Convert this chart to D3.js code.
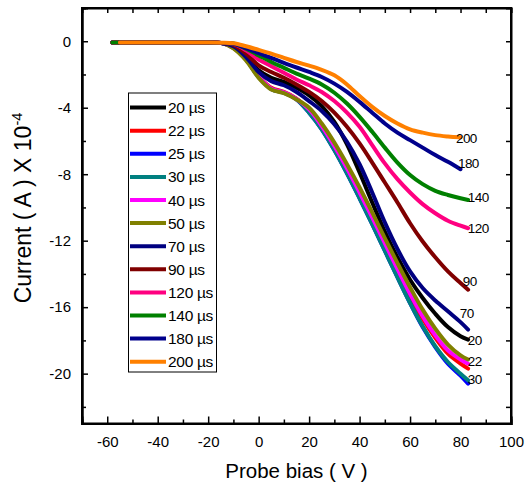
<!DOCTYPE html>
<html>
<head>
<meta charset="utf-8">
<script src="https://cdn.jsdelivr.net/npm/d3@7"></script>
<style>
  html, body { margin: 0; padding: 0; background: #fff; }
  svg { display: block; font-family: "Liberation Sans", Arial, sans-serif; }
</style>
</head>
<body>
<svg id="chart" width="525" height="489"></svg>
<script>
// ---------- DATA ----------
const voltage = [-58, -55, -50, -40, -30, -20, -15, -10, -5, 0, 5, 10, 15, 20, 25, 30, 35, 40, 45, 50, 55, 60, 65, 70, 75, 80, 83];

const pulseLabels = ["20 µs", "22 µs", "25 µs", "30 µs", "40 µs", "50 µs", "70 µs", "90 µs", "120 µs", "140 µs", "180 µs", "200 µs"];
const seriesColors = ["#000000", "#FF0000", "#0000FF", "#008080", "#FF00FF", "#808000", "#000080", "#800000", "#FF0080", "#008000", "#00008C", "#FF8000"];

const cur20  = [-0.08, -0.08, -0.08, -0.08, -0.08, -0.08, -0.1, -0.25, -0.85, -1.75, -2.2, -2.45, -2.8, -3.25, -3.9, -4.85, -6.2, -7.9, -9.7, -11.45, -13.0, -14.35, -15.45, -16.4, -17.2, -17.75, -17.95];
const cur22  = [-0.08, -0.08, -0.08, -0.08, -0.08, -0.08, -0.1, -0.4, -1.1, -2.1, -2.8, -3.05, -3.45, -4.15, -5.15, -6.4, -7.8, -9.25, -10.75, -12.3, -13.85, -15.35, -16.7, -17.85, -18.8, -19.4, -19.7];
const cur25  = [-0.08, -0.08, -0.08, -0.08, -0.08, -0.08, -0.1, -0.4, -1.1, -2.15, -2.87, -3.1, -3.5, -4.3, -5.3, -6.55, -7.95, -9.45, -11.0, -12.6, -14.2, -15.75, -17.2, -18.4, -19.4, -20.12, -20.6];
const cur30  = [-0.08, -0.08, -0.08, -0.08, -0.08, -0.08, -0.1, -0.4, -1.1, -2.15, -2.87, -3.1, -3.5, -4.3, -5.3, -6.55, -7.95, -9.45, -11.0, -12.6, -14.2, -15.75, -17.15, -18.35, -19.3, -20.0, -20.4];
const cur40  = [-0.08, -0.08, -0.08, -0.08, -0.08, -0.08, -0.1, -0.4, -1.1, -2.12, -2.85, -3.08, -3.48, -4.1, -5.1, -6.3, -7.65, -9.1, -10.6, -12.15, -13.7, -15.2, -16.55, -17.7, -18.6, -19.15, -19.4];
const cur50  = [-0.08, -0.08, -0.08, -0.08, -0.08, -0.08, -0.1, -0.42, -1.15, -2.2, -2.9, -3.12, -3.5, -4.0, -4.95, -6.1, -7.4, -8.8, -10.3, -11.85, -13.35, -14.8, -16.15, -17.3, -18.25, -18.9, -19.15];
const cur70  = [-0.08, -0.08, -0.08, -0.08, -0.08, -0.08, -0.1, -0.3, -0.95, -1.85, -2.4, -2.65, -3.05, -3.6, -4.2, -5.0, -6.05, -7.4, -9.1, -10.9, -12.5, -13.85, -14.85, -15.6, -16.25, -16.9, -17.35];
const cur90  = [-0.08, -0.08, -0.08, -0.08, -0.08, -0.08, -0.1, -0.22, -0.75, -1.45, -1.85, -2.2, -2.6, -3.05, -3.6, -4.3, -5.15, -6.15, -7.3, -8.5, -9.7, -10.95, -12.05, -13.0, -13.85, -14.55, -14.95];
const cur120 = [-0.08, -0.08, -0.08, -0.08, -0.08, -0.08, -0.1, -0.15, -0.55, -1.1, -1.5, -1.9, -2.3, -2.65, -3.05, -3.6, -4.3, -5.15, -6.25, -7.35, -8.3, -9.1, -9.8, -10.35, -10.8, -11.1, -11.25];
const cur140 = [-0.08, -0.08, -0.08, -0.08, -0.08, -0.08, -0.1, -0.14, -0.45, -0.85, -1.25, -1.6, -1.95, -2.25, -2.6, -3.1, -3.75, -4.55, -5.45, -6.4, -7.3, -8.05, -8.6, -9.0, -9.25, -9.45, -9.55];
const cur180 = [null, -0.08, -0.08, -0.08, -0.08, -0.08, -0.1, -0.16, -0.42, -0.72, -1.0, -1.3, -1.58, -1.85, -2.15, -2.55, -3.05, -3.65, -4.3, -4.95, -5.5, -5.95, -6.4, -6.85, -7.25, -7.7, null];
const cur200 = [null, -0.08, -0.08, -0.08, -0.08, -0.08, -0.09, -0.12, -0.3, -0.52, -0.75, -1.0, -1.25, -1.47, -1.72, -2.05, -2.6, -3.3, -3.95, -4.5, -4.95, -5.3, -5.5, -5.65, -5.73, -5.78, null];

const currents = [cur20, cur22, cur25, cur30, cur40, cur50, cur70, cur90, cur120, cur140, cur180, cur200];

// end-of-curve annotations: text, voltage, current (data units)
const endLabels = ["200", "180", "140", "120", "90", "70", "20", "22", "30"];
const endLabelV = [78.2, 79.0, 82.9, 82.9, 80.9, 79.7, 82.9, 82.9, 82.9];
const endLabelI = [-5.83, -7.33, -9.37, -11.23, -14.41, -16.34, -17.96, -19.22, -20.32];

const xMajorTicks = [-60, -40, -20, 0, 20, 40, 60, 80, 100];
const xMinorTicks = [-50, -30, -10, 10, 30, 50, 70, 90];
const yMajorTicks = [0, -4, -8, -12, -16, -20];
const yMinorTicks = [-2, -6, -10, -14, -18, -22];

// ---------- DRAW ----------
const svg = d3.select("#chart");
const L = 82, R = 511, T = 8, B = 423.5;
const x = d3.scaleLinear().domain([-70, 100]).range([L, R]);
const y = d3.scaleLinear().domain([-23, 2]).range([B, T]);

// curves
const line = d3.line()
  .defined(d => d[1] !== null)
  .x(d => x(d[0]))
  .y(d => y(d[1]))
  .curve(d3.curveCatmullRom.alpha(0.5));

const g = svg.append("g");
currents.forEach((arr, i) => {
  const pts = voltage.map((v, k) => [v, arr[k]]);
  g.append("path")
    .attr("d", line(pts))
    .attr("fill", "none")
    .attr("stroke", seriesColors[i])
    .attr("stroke-width", 4)
    .attr("stroke-linecap", "round")
    .attr("stroke-linejoin", "round");
});

// axes
const fmt = d => String(d);
svg.append("g").attr("transform", `translate(0,${B})`)
  .call(d3.axisBottom(x).tickValues(xMajorTicks).tickSize(-7).tickPadding(13).tickFormat(fmt));
svg.append("g").attr("transform", `translate(0,${B})`)
  .call(d3.axisBottom(x).tickValues(xMinorTicks).tickSize(-4).tickFormat(""));
svg.append("g").attr("transform", `translate(${L},0)`)
  .call(d3.axisLeft(y).tickValues(yMajorTicks).tickSize(-6).tickPadding(11).tickFormat(fmt));
svg.append("g").attr("transform", `translate(${L},0)`)
  .call(d3.axisLeft(y).tickValues(yMinorTicks).tickSize(-4).tickFormat(""));
svg.append("g").attr("transform", `translate(${R},0)`)
  .call(d3.axisRight(y).tickValues(yMajorTicks.concat(yMinorTicks)).tickSize(-5).tickFormat(""));
svg.append("g").attr("transform", `translate(0,${T})`)
  .call(d3.axisTop(x).tickValues(xMajorTicks.concat(xMinorTicks)).tickSize(-5).tickFormat(""));

svg.selectAll(".domain").attr("stroke", "#000").attr("stroke-width", 2);
svg.selectAll(".tick line").attr("stroke", "#000").attr("stroke-width", 1.5);
svg.selectAll(".tick text").attr("fill", "#000").style("font-size", "15px")
  .style("font-family", "'Liberation Sans', Arial, sans-serif");

// frame
svg.append("rect").attr("x", L).attr("y", T).attr("width", R - L).attr("height", B - T)
  .attr("fill", "none").attr("stroke", "#000").attr("stroke-width", 2);

// axis titles
svg.append("text").attr("x", (L + R) / 2).attr("y", 478).attr("text-anchor", "middle")
  .style("font-size", "20.5px").text("Probe bias ( V )");
const yt = svg.append("text").attr("transform", "translate(31,208) rotate(-90)").attr("text-anchor", "middle")
  .style("font-size", "23px");
yt.append("tspan").text("Current ( A ) X 10");
yt.append("tspan").attr("dy", "-9").style("font-size", "14.5px").text("-4");

// legend
const lx = 128.5, ly = 93, lw = 88, lh = 279;
svg.append("rect").attr("x", lx).attr("y", ly).attr("width", lw).attr("height", lh)
  .attr("fill", "#fff").attr("stroke", "#000").attr("stroke-width", 1);
pulseLabels.forEach((lab, i) => {
  const yy = 107.6 + i * 23.1;
  svg.append("line").attr("x1", 130).attr("x2", 166).attr("y1", yy).attr("y2", yy)
    .attr("stroke", seriesColors[i]).attr("stroke-width", 4);
  svg.append("text").attr("x", 168).attr("y", yy + 5.5).style("font-size", "15.5px")
    .style("letter-spacing", "-0.3px").text(lab);
});

// end labels
endLabels.forEach((t, i) => {
  svg.append("text").attr("x", x(endLabelV[i])).attr("y", y(endLabelI[i]) + 5)
    .style("font-size", "13.5px").style("letter-spacing", "-0.6px").text(t);
});
</script>
</body>
</html>
